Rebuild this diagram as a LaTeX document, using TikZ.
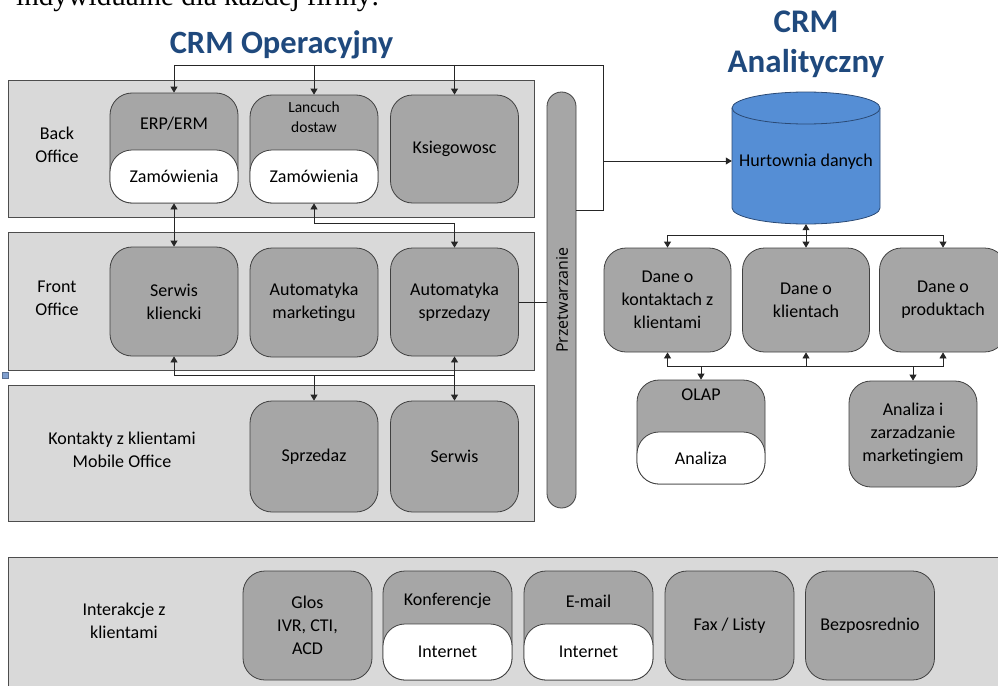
\documentclass[tikz,border=0pt]{standalone}
\usepackage{fontspec}
\setmainfont{Carlito}
\newfontfamily\serifface{Liberation Serif}
\newfontfamily\pillface{Open Sans}
\usetikzlibrary{arrows.meta,calc}

\definecolor{titleblue}{HTML}{1F497D}
\definecolor{dwblue}{HTML}{558ED5}
\definecolor{dwline}{HTML}{2B4A75}
\definecolor{panelfill}{HTML}{D9D9D9}
\definecolor{panelline}{HTML}{4D4D4D}
\definecolor{cardfill}{HTML}{A6A6A6}
\definecolor{cardline}{HTML}{404040}
\definecolor{wirec}{HTML}{262626}
\definecolor{markblue}{HTML}{7F9FCF}

\newcommand\lblfont{\fontsize{18}{23}\selectfont}
\newcommand\smallfont{\fontsize{15.5}{20}\selectfont}

\tikzset{
  panel/.style={draw=panelline, fill=panelfill, line width=0.8pt, inner sep=0pt, anchor=north west},
  card/.style={draw=cardline, fill=cardfill, rounded corners=22pt, line width=0.8pt,
               minimum width=128pt, inner sep=0pt, align=center, font=\lblfont},
  subcard/.style={card, fill=white},
  txt/.style={align=center, inner sep=0pt, font=\lblfont},
  wire/.style={draw=wirec, line width=0.8pt},
  maintitle/.style={text=titleblue, font=\fontsize{32.5}{38}\bfseries\selectfont, inner sep=0pt, anchor=base},
  sidetitle/.style={text=titleblue, font=\fontsize{33}{38}\bfseries\selectfont, inner sep=0pt, anchor=base},
}

\begin{document}
\begin{tikzpicture}[x=1pt, y=-1pt, >={Triangle[width=7pt,length=6pt]}]
\useasboundingbox (0,0) rectangle (998,685);
\clip (0,0) rectangle (998,685);

% running text above the diagram
\node[anchor=base west, inner sep=0pt, font=\serifface\fontsize{29}{34}\selectfont] (intro) at (16,6) {indywidualne dla każdej firmy:};

% titles
\node[maintitle] (tOp) at (281.5,53) {CRM Operacyjny};
\node[sidetitle] (tCrm) at (806,33) {CRM};
\node[sidetitle] (tAn) at (806,73) {Analityczny};

% layer panels
\node[panel, minimum width=526pt, minimum height=137pt] (pback) at (8,80) {};
\node[panel, minimum width=526pt, minimum height=138pt] (pfront) at (8,232) {};
\node[panel, minimum width=526pt, minimum height=136pt] (pkont) at (8,385) {};
\node[panel, minimum width=1010pt, minimum height=140pt] (pint) at (8,557) {};

\node[txt] (lback) at (57,145) {Back\\Office};
\node[txt] (lfront) at (57,298) {Front\\Office};
\node[txt] (lkont) at (122,450) {Kontakty z klientami\\Mobile Office};
\node[txt] (linter) at (124,621) {Interakcje z\\klientami};

% small marker
\node[draw=markblue!70!black, fill=markblue, minimum size=6pt, inner sep=0pt] (mk) at (5,375) {};

% processing bar
\node[draw=cardline, fill=cardfill, rounded corners=14.5pt, minimum width=29pt, minimum height=416pt, inner sep=0pt, line width=0.8pt] (pz) at (561.5,300) {};
\node[rotate=90, inner sep=0pt, font=\pillface\fontsize{16}{20}\selectfont] (pzl) at (562,300) {Przetwarzanie};

% data warehouse cylinder
\filldraw[fill=dwblue, draw=dwline, line width=0.8pt]
  (732,108) -- (732,208) arc[start angle=180, end angle=0, x radius=74, y radius=16]
  -- (880,108) arc[start angle=0, end angle=-180, x radius=74, y radius=16] -- cycle;
\draw[dwline, line width=0.8pt] (732,108) arc[start angle=180, end angle=0, x radius=74, y radius=16];
\node[minimum width=148pt, minimum height=132pt, inner sep=0pt] (dw) at (806,158) {};
\node[txt] (dwl) at (806,162) {Hurtownia danych};

% connector anchors
\coordinate (busT) at (603,65);
\coordinate (busR) at (603,210);
\coordinate (hubD) at (603,161);
\coordinate (midA) at (0,223);
\coordinate (midB) at (0,375);
\coordinate (midC) at (0,235);
\coordinate (midD) at (0,366);

% back office cards
\node[card, minimum height=110pt] (erp) at (174,148) {};
\node[subcard, minimum height=53pt] (erpw) at (174,176.5) {Zamówienia};
\node[txt] (erpl) at (174,124) {ERP/ERM};

\node[card, minimum height=108pt] (lan) at (314,149) {};
\node[subcard, minimum height=53pt] (lanw) at (314,176.5) {Zamówienia};
\node[txt, font=\smallfont] (lanl) at (314,117) {Lancuch\\dostaw};

\node[card, minimum height=108pt] (ksi) at (454.5,149) {Ksiegowosc};

% front office cards
\node[card, minimum height=109pt] (ser) at (174,301.5) {Serwis\\kliencki};
\node[card, minimum height=109pt] (aum) at (314,302.5) {Automatyka\\marketingu};
\node[card, minimum height=108pt] (aus) at (454.5,302) {Automatyka\\sprzedazy};

% mobile office cards
\node[card, minimum height=111pt] (spr) at (314,456.5) {Sprzedaz};
\node[card, minimum height=111pt] (srw) at (454.5,456.5) {Serwis};

% analytical cards
\node[card, minimum width=127pt, minimum height=104pt] (dko) at (667.5,300) {Dane o\\kontaktach z\\klientami};
\node[card, minimum width=127pt, minimum height=104pt] (dkl) at (806,300) {Dane o\\klientach};
\node[card, minimum width=127pt, minimum height=104pt] (dpr) at (943,300) {Dane o\\produktach};

\node[card, minimum height=104pt] (olap) at (701,432) {};
\node[subcard, minimum height=52pt] (olapw) at (701,458) {Analiza};
\node[txt] (olapl) at (701,395) {OLAP};

\node[card, minimum height=106pt] (anz) at (913,434) {Analiza i\\zarzadzanie\\marketingiem};

% interaction channel cards
\node[card, minimum width=129pt, minimum height=109pt] (glos) at (307.5,625.5) {Glos\\IVR, CTI,\\ACD};
\node[card, minimum width=129pt, minimum height=109pt] (konf) at (447.5,625.5) {};
\node[subcard, minimum width=129pt, minimum height=56pt] (konfw) at (447.5,652) {Internet};
\node[txt] (konfl) at (447.5,601) {Konferencje};
\node[card, minimum width=129pt, minimum height=109pt] (mail) at (588.5,625.5) {};
\node[subcard, minimum width=129pt, minimum height=56pt] (mailw) at (588.5,652) {Internet};
\node[txt] (maill) at (588.5,601) {E-mail};
\node[card, minimum width=129pt, minimum height=109pt] (fax) at (729.5,625.5) {Fax / Listy};
\node[card, minimum width=129pt, minimum height=109pt] (bez) at (870,625.5) {Bezposrednio};

% operational links
\draw[wire] (pz.east |- busR) -- (busR) -- (busT) -- (busT -| erp.north);
\draw[wire,->] (busT -| erp.north) -- (erp.north);
\draw[wire,->] (busT -| lan.north) -- (lan.north);
\draw[wire,->] (busT -| ksi.north) -- (ksi.north);
\draw[wire,->] (hubD) -- (hubD -| dw.west);

\draw[wire,<->] (erp.south) -- (ser.north);
\draw[wire,<->] (lan.south) -- (lan.south |- midA) -| (aus.north);
\draw[wire] (aus.east) -- (aus.east -| pz.west);
\draw[wire,<->] (ser.south) -- (ser.south |- midB) -| (aus.south);
\draw[wire,->] (spr.north |- midB) -- (spr.north);
\draw[wire,->] (srw.north |- midB) -- (srw.north);

% analytical links
\draw[wire,<->] (dw.south) -- (dkl.north);
\draw[wire,->] (dkl.north |- midC) -| (dko.north);
\draw[wire,->] (dkl.north |- midC) -| (dpr.north);
\draw[wire,<->] (dko.south) -- (dko.south |- midD) -| (dpr.south);
\draw[wire,->] (dkl.south |- midD) -- (dkl.south);
\draw[wire,->] (olap.north |- midD) -- (olap.north);
\draw[wire,->] (anz.north |- midD) -- (anz.north);
\end{tikzpicture}
\end{document}
